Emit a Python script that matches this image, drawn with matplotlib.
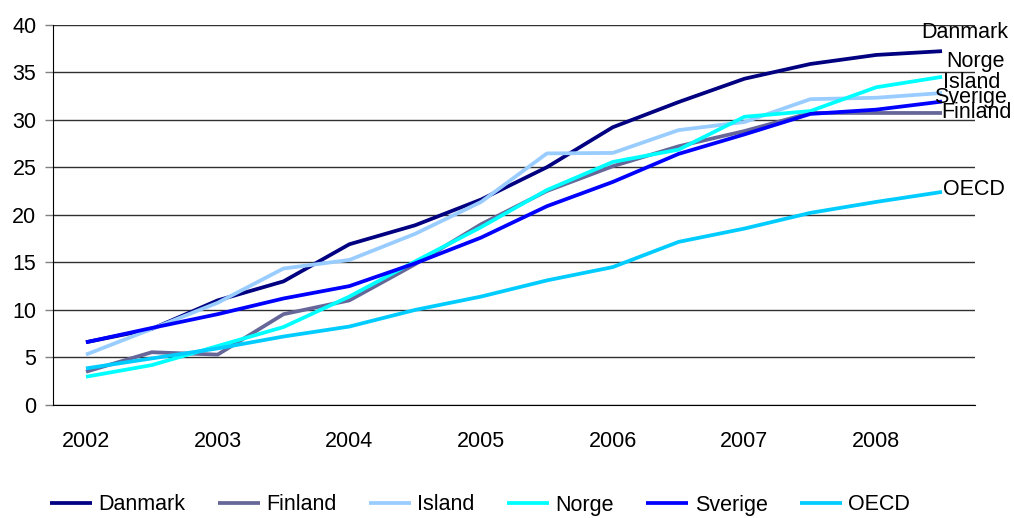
import matplotlib
matplotlib.use("Agg")
import matplotlib.pyplot as plt

plt.rcParams['font.family'] = ['Liberation Sans', 'DejaVu Sans']

# half-year points 2002 .. 2008.5
x = [2002, 2002.5, 2003, 2003.5, 2004, 2004.5, 2005, 2005.5,
     2006, 2006.5, 2007, 2007.5, 2008, 2008.5]
years = [2002, 2003, 2004, 2005, 2006, 2007, 2008]

danmark = [6.6, 8.0, 11.0, 13.0, 16.9, 18.9, 21.6, 25.0, 29.2, 31.85, 34.3, 35.85, 36.8, 37.2]
finland = [3.5, 5.55, 5.3, 9.55, 11.0, 14.8, 19.0, 22.5, 25.1, 27.2, 28.8, 30.7, 30.7, 30.7]
island = [5.3, 8.0, 10.75, 14.35, 15.25, 18.0, 21.35, 26.45, 26.5, 28.9, 29.75, 32.15, 32.3, 32.8]
norge = [2.97, 4.2, 6.2, 8.2, 11.4, 15.1, 18.7, 22.6, 25.55, 26.85, 30.3, 30.9, 33.4, 34.5]
sverige = [6.6, 8.1, 9.55, 11.2, 12.5, 14.9, 17.6, 20.9, 23.45, 26.4, 28.45, 30.6, 31.05, 31.9]
oecd = [3.85, 4.9, 5.95, 7.2, 8.25, 10.0, 11.4, 13.1, 14.5, 17.15, 18.55, 20.2, 21.35, 22.4]

names = ['Danmark', 'Finland', 'Island', 'Norge', 'Sverige', 'OECD']
colors = ['#000080', '#666699', '#99ccff', '#00ffff', '#0000ff', '#00ccff']
series = [danmark, finland, island, norge, sverige, oecd]

fig = plt.figure(figsize=(10.14, 5.18), dpi=100)
ax = fig.add_axes([0.0523, 0.2181, 0.9092, 0.7346])

for name, col, vals in zip(names, colors, series):
    ax.plot(x, vals, color=col, lw=2.7, label=name, solid_capstyle='butt')

ax.set_xlim(2001.75, 2008.75)
ax.set_ylim(0, 40)
ax.set_yticks(range(0, 41, 5))
ax.set_xticks(years)
ax.set_xticklabels([str(y) for y in years])
ax.tick_params(axis='x', length=0, pad=19, labelsize=15.5)
ax.tick_params(axis='y', length=6, width=1, color='#808080', pad=6, labelsize=15.5)
ax.grid(axis='y', color='#303030', lw=1)
ax.set_axisbelow(True)
for s in ['top', 'right']:
    ax.spines[s].set_visible(False)
ax.spines['left'].set_color('black')
ax.spines['bottom'].set_color('black')

# end labels
end_labels = [('Danmark', 921, 33), ('Norge', 946, 61), ('Island', 943, 82),
              ('Sverige', 934, 97), ('Finland', 941, 112), ('OECD', 943, 190)]
for txt, px, py in end_labels:
    fig.text(px / 1014, 1 - py / 518, txt, fontsize=15.5, ha='left', va='center')

leg = fig.legend(loc='center left', bbox_to_anchor=(50 / 1014, 1 - 505 / 518), ncol=6,
                 frameon=False, fontsize=15.5, handlelength=1.95, handletextpad=0.3,
                 columnspacing=1.5, borderpad=0, borderaxespad=0)

fig.savefig('out.png', dpi=100)
